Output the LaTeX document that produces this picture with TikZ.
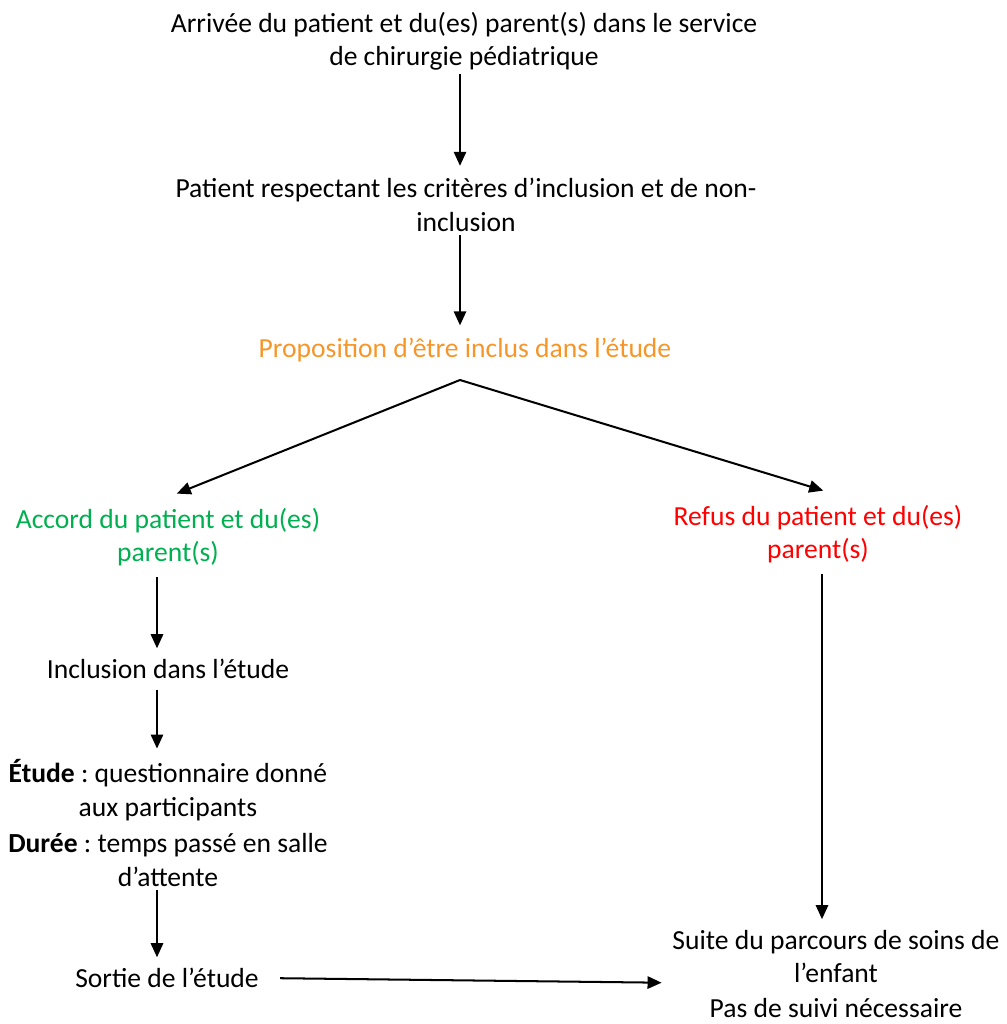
\documentclass[tikz,border=0pt]{standalone}
\usepackage{fontspec}
\setmainfont{Carlito}
\usetikzlibrary{arrows.meta}
\frenchspacing

\definecolor{orangeprop}{RGB}{247,150,40}
\definecolor{vertaccord}{RGB}{0,176,80}
\definecolor{rougerefus}{RGB}{255,0,0}

\tikzset{
  etape/.style={align=center, font=\fontsize{15.7}{19}\selectfont, inner sep=2pt},
  fleche/.style={-{Triangle[length=8pt,width=7pt]}, line width=1.15pt},
}

\begin{document}
\begin{tikzpicture}[x=0.02cm, y=-0.02cm]
    \useasboundingbox (0,0) rectangle (1007,1024);

    % Colonnes des flèches verticales
    \coordinate (colc) at (460,0);
    \coordinate (colg) at (157,0);
    \coordinate (cold) at (822,0);

    % Étapes communes
    \node[etape] (arrivee) at (464,41) {Arrivée du patient et du(es) parent(s) dans le service\\de chirurgie pédiatrique};
    \node[etape] (criteres) at (466,205) {Patient respectant les critères d’inclusion et de non-\\inclusion};
    \node[etape, text=orangeprop] (proposition) at (465,350) {Proposition d’être inclus dans l’étude};
    \coordinate (split) at (460,380);

    % Branche accord (gauche)
    \node[etape, text=vertaccord] (accord) at (168,537) {Accord du patient et du(es)\\parent(s)};
    \node[etape] (inclusion) at (168,669) {Inclusion dans l’étude};
    \node[etape] (etude) at (168,823) {\textbf{Étude} : questionnaire donné\\aux participants\\[2pt]\textbf{Durée} : temps passé en salle\\d’attente};
    \node[etape] (sortie) at (167,978) {Sortie de l’étude};

    % Branche refus (droite)
    \node[etape, text=rougerefus] (refus) at (818,534) {Refus du patient et du(es)\\parent(s)};
    \node[etape] (suite) at (836,974) {Suite du parcours de soins de\\l’enfant\\[1pt]Pas de suivi nécessaire};

    % Flèches
    \draw[fleche, shorten >=5pt] (arrivee.south -| colc) -- (criteres.north -| colc);
    \draw[fleche, shorten >=5pt] (criteres.south -| colc) -- (proposition.north -| colc);
    \draw[fleche] (split) -- ([xshift=5pt, yshift=6pt]accord.north);
    \draw[fleche] (split) -- ([xshift=3pt, yshift=6pt]refus.north);
    \draw[fleche, shorten <=4pt, shorten >=4pt] (accord.south -| colg) -- (inclusion.north -| colg);
    \draw[fleche, shorten <=4pt, shorten >=4pt] (inclusion.south -| colg) -- (etude.north -| colg);
    \draw[fleche, shorten >=4pt] (etude.south -| colg) -- (sortie.north -| colg);
    \draw[fleche, shorten <=4pt, shorten >=4pt] (refus.south -| cold) -- (suite.north -| cold);
    \draw[fleche, shorten <=10pt, shorten >=4pt] (sortie.east) -- ([yshift=-5pt]suite.west);
\end{tikzpicture}
\end{document}
